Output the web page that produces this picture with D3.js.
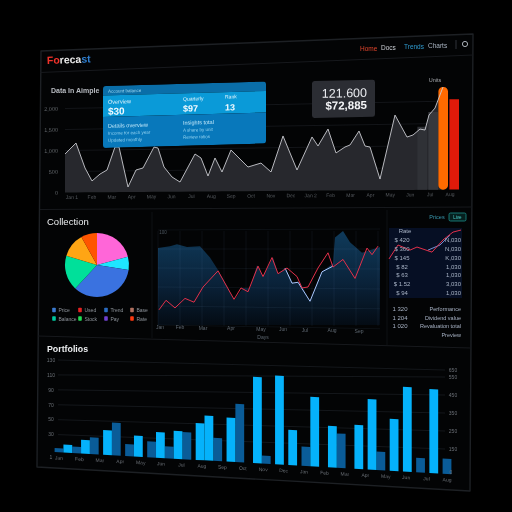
<!DOCTYPE html>
<html>
<head>
<meta charset="utf-8">
<script src="https://cdn.jsdelivr.net/npm/d3@7"></script>
<style>
  html, body { margin: 0; background: #000; }
  svg { display: block; filter: blur(0.45px); }
  text { font-family: "Liberation Sans", sans-serif; }
</style>
</head>
<body>
<svg width="512" height="512"></svg>
<script>
// top area chart
const areaDays = [0, 11, 20, 27, 35, 42, 50, 54, 63, 71, 78, 89, 93, 99, 107, 115, 130, 136, 143, 150, 157, 166, 173, 183, 196, 206, 218, 232, 247, 253, 263, 271, 280, 285, 294, 300, 305, 315, 330, 342, 348, 355, 360, 364, 370, 378];
const areaValues = [916, 1176, 580, 270, 433, 528, 1075, 1073, 120, 523, 570, 1066, 1042, 590, 350, 229, 893, 797, 367, 795, 460, 983, 814, 574, 666, 452, 1307, 495, 1278, 1062, 1464, 893, 1033, 1080, 1411, 1054, 1028, 264, 1785, 1259, 1307, 1447, 1423, 1780, 1944, 2444];
const areaTicks = [0, 500, 1000, 1500, 2000];
const areaLabels = ["Jan 1", "Feb", "Mar", "Apr", "May", "Jun", "Jul", "Aug", "Sep", "Oct", "Nov", "Dec", "Jan 2", "Feb", "Mar", "Apr", "May", "Jun", "Jul", "Aug"];
const topBarDays = [357, 368, 378, 389];
const topBarValues = [1500, 1850, 2444, 2150];
const topBarColors = ["#2f3136", "#36383d", "#ff6a00", "#e01a0a"];

// pie
const pieValues = [20.8, 6.7, 34.4, 17.8, 12.2, 8.1];
const pieColors = ["#ff66d8", "#1ee6ff", "#3a72e0", "#00e09a", "#ffa514", "#ff5500"];
const legendNames = ["Price", "Used", "Trend", "Base", "Balance", "Stock", "Pay", "Rate"];
const legendColors = ["#3a7ad0", "#e52222", "#2a6bc0", "#b07060", "#00c8a0", "#22dd55", "#7040d0", "#ff3a10"];

// middle chart
const midAreaDays = [0, 12, 19, 29, 42, 52, 60, 72, 76, 85, 92, 99, 105, 115, 120, 127, 135, 142, 152, 164, 175, 177, 185, 192, 204, 222];
const midAreaValues = [81, 83, 85, 82, 83, 71, 58, 35, 26, 39, 39, 63, 51, 71, 54, 60, 44, 45, 25, 56, 65, 92, 99, 87, 76, 82];
const redDays = [1, 8, 17, 27, 36, 45, 60, 76, 83, 90, 100, 105, 114, 120, 129, 139, 144, 150, 160, 170, 175, 185, 197, 209, 214, 220];
const redValues = [16, 26, 18, 28, 24, 40, 57, 27, 39, 35, 62, 51, 71, 54, 60, 51, 39, 40, 60, 76, 61, 69, 49, 81, 74, 83];
const lightDays = [127, 134, 140, 152, 164, 175];
const lightValues = [60, 44, 45, 25, 56, 62];
const midLabels = ["Jan", "Feb", "Mar", "Apr", "May", "Jun", "Jul", "Aug", "Sep"];
const midLabelDays = [2, 22, 45, 73, 103, 125, 147, 174, 201];

// small table panel
const miniRedDays = [0, 9, 21, 28, 43, 54, 64, 72];
const miniRedValues = [9, 50, 35, 44, 29, 65, 88, 94];
const miniBlueDays = [39, 51, 61];
const miniBlueValues = [35, 50, 79];
const tableLeft = ["$ 420", "$ 360", "$ 145", "$ 82", "$ 63", "$ 1.52", "$ 94"];
const tableRight = ["N,030", "N,030", "K,030", "1,030", "1,030", "3,030", "1,030"];
const footLeft = ["1 320", "1 204", "1 020"];
const footRight = ["Performance", "Dividend value", "Revaluation total", "Preview"];

// bottom bars
const brightWeeks = [2, 6, 11, 18, 23, 27, 32, 34, 39, 45, 50, 53, 58, 62, 68, 71, 76, 79, 85];
const brightValues = [10, 17, 31, 26, 32, 35, 46, 56, 55, 108, 111, 44, 87, 52, 55, 88, 65, 106, 105];
const darkWeeks = [0, 4, 8, 13, 16, 21, 25, 29, 36, 41, 47, 56, 64, 73, 82, 88];
const darkValues = [5, 8, 21, 41, 15, 20, 15, 34, 29, 73, 10, 24, 43, 23, 18, 19];
const barTicks = [30, 50, 70, 90, 110, 130];
const barLabels = ["Jan", "Feb", "Mar", "Apr", "May", "Jun", "Jul", "Aug", "Sep", "Oct", "Nov", "Dec", "Jan", "Feb", "Mar", "Apr", "May", "Jun", "Jul", "Aug"];

const svg = d3.select("svg");

// the dashboard leans: horizontals fan out from about y=250
const slopeAt = (y) => -0.045 + ((y - 50) * 0.095) / 420;
const tilt = (k, pivotX) => `matrix(1,${k},0,1,0,${-k * pivotX})`;

const line = d3.line().x((d) => d[0]).y((d) => d[1]);

const defs = svg.append("defs");
const midGrad = defs
  .append("linearGradient")
  .attr("id", "midFill")
  .attr("gradientUnits", "userSpaceOnUse")
  .attr("x1", 0)
  .attr("x2", 0)
  .attr("y1", 232)
  .attr("y2", 326);
midGrad.append("stop").attr("offset", 0).attr("stop-color", "#0f3a5a");
midGrad.append("stop").attr("offset", 0.55).attr("stop-color", "#0a2239");
midGrad.append("stop").attr("offset", 1).attr("stop-color", "#040b13");

// panel frame and separators
svg
  .append("path")
  .attr("d", "M41,51 L473,34 L470,491 L37,467 Z")
  .attr("fill", "#030405")
  .attr("stroke", "#1d2024")
  .attr("stroke-linejoin", "round")
  .attr("stroke-width", 1.4);

const frameLines = [
  [40, 72.5, 473, 55],
  [40, 209.5, 472, 207],
  [38, 336, 471, 348],
  [152, 212, 152, 338],
  [387, 210, 387, 345]
];
svg
  .append("g")
  .selectAll("line")
  .data(frameLines)
  .join("line")
  .attr("x1", (d) => d[0])
  .attr("y1", (d) => d[1])
  .attr("x2", (d) => d[2])
  .attr("y2", (d) => d[3])
  .attr("stroke", (d) => (d[0] === d[2] ? "#0f1114" : "#17191d"));

// header
const title = svg
  .append("text")
  .attr("transform", `translate(47,64) rotate(-2)`)
  .attr("font-size", 10.5)
  .attr("font-weight", "bold");
title.append("tspan").attr("fill", "#f0322a").text("Fo");
title.append("tspan").attr("fill", "#e8e8e8").text("reca");
title.append("tspan").attr("fill", "#2f7fd0").text("st");

const navItems = [
  ["Home", 360, 50.5, "#e0452c"],
  ["Docs", 381, 49.5, "#c9ccd2"],
  ["Trends", 404, 49, "#2f9bd0"],
  ["Charts", 428, 48, "#a9b4c2"]
];
svg
  .append("g")
  .selectAll("text")
  .data(navItems)
  .join("text")
  .attr("x", (d) => d[1])
  .attr("y", (d) => d[2])
  .attr("fill", (d) => d[3])
  .attr("font-size", 6.5)
  .text((d) => d[0]);
svg.append("line").attr("x1", 456).attr("x2", 456).attr("y1", 40).attr("y2", 49).attr("stroke", "#30333a");
svg.append("circle").attr("cx", 465).attr("cy", 44).attr("r", 2.6).attr("fill", "none").attr("stroke", "#aab0b8");

svg
  .append("text")
  .attr("x", 51)
  .attr("y", 93)
  .attr("fill", "#b8bcc2")
  .attr("font-size", 7)
  .attr("font-weight", "bold")
  .text("Data In Aimple");

// top area chart
const topX = d3.scaleLinear().domain([0, 378]).range([65, 443]);
const topY = d3.scaleLinear().domain([0, 2000]).range([192.5, 108.5]);

svg
  .append("g")
  .selectAll("line")
  .data(areaTicks.slice(1))
  .join("line")
  .attr("x1", 65)
  .attr("x2", 440)
  .attr("y1", (d) => topY(d))
  .attr("y2", (d) => topY(d))
  .attr("stroke", "#131519")
  .attr("transform", (d) => tilt(slopeAt(topY(d)) * 0.6, 65));

const topG = svg.append("g").attr("transform", tilt(-0.0075, 65));
const topArea = d3
  .area()
  .x((d) => topX(d[0]))
  .y0(topY(0))
  .y1((d) => topY(d[1]));
const areaPts = areaDays.map((d, i) => [d, areaValues[i]]);
topG.append("path").attr("d", topArea(areaPts)).attr("fill", "#27282d");

topG
  .selectAll("rect.topbar")
  .data(topBarDays)
  .join("rect")
  .attr("class", "topbar")
  .attr("x", (d) => topX(d) - 4.6)
  .attr("width", 9.6)
  .attr("y", (d, i) => topY(topBarValues[i]))
  .attr("height", (d, i) => topY(0) - topY(topBarValues[i]))
  .attr("rx", (d, i) => (i === 2 ? 4.5 : 0))
  .attr("fill", (d, i) => topBarColors[i]);

topG
  .append("path")
  .attr("d", line(areaPts.map((d) => [topX(d[0]), topY(d[1])])))
  .attr("fill", "none")
  .attr("stroke", "#c9cbd0")
  .attr("stroke-width", 0.9);

const topAxisLeft = topG
  .append("g")
  .attr("transform", "translate(61,0)")
  .call(d3.axisLeft(topY).tickValues(areaTicks).tickSize(0).tickFormat(d3.format(",")));
topAxisLeft.select(".domain").remove();
topAxisLeft.selectAll("text").attr("fill", "#62666b").attr("font-size", 5.5);

topG
  .append("g")
  .selectAll("text")
  .data(areaLabels)
  .join("text")
  .attr("x", (d, i) => topX(7 + (i * 378) / 19))
  .attr("y", 199)
  .attr("text-anchor", "middle")
  .attr("fill", "#565a5f")
  .attr("font-size", 5)
  .text((d) => d);

svg
  .append("text")
  .attr("x", 435)
  .attr("y", 82)
  .attr("text-anchor", "middle")
  .attr("fill", "#a5a8ad")
  .attr("font-size", 5.5)
  .text("Units");

// blue card
const cardG = svg.append("g").attr("transform", tilt(-0.028, 103));
defs
  .append("clipPath")
  .attr("id", "cardClip")
  .append("rect")
  .attr("x", 103)
  .attr("y", 86)
  .attr("width", 163)
  .attr("height", 62)
  .attr("rx", 3);
const cardBands = [
  [86, 9.5, "#0a6ea8"],
  [95.5, 21.5, "#0a9ad8"],
  [117, 31, "#0878bb"]
];
cardG
  .append("g")
  .attr("clip-path", "url(#cardClip)")
  .selectAll("rect")
  .data(cardBands)
  .join("rect")
  .attr("x", 103)
  .attr("width", 163)
  .attr("y", (d) => d[0])
  .attr("height", (d) => d[1])
  .attr("fill", (d) => d[2]);

const cardTexts = [
  ["Account balance", 108, 93, 4.5, "#9fd8f2", "normal"],
  ["Overview", 108, 104, 5.5, "#e4f5fd", "normal"],
  ["$30", 108, 115, 10, "#f4fbff", "bold"],
  ["Quarterly", 183, 103, 5, "#e4f5fd", "normal"],
  ["$97", 183, 114, 9, "#f4fbff", "bold"],
  ["Rank", 225, 102, 5, "#e4f5fd", "normal"],
  ["13", 225, 114, 9, "#f4fbff", "bold"],
  ["Details overview", 108, 128, 5.5, "#bfe6f8", "normal"],
  ["Income for each year", 108, 135, 4.5, "#8fd0ef", "normal"],
  ["Updated monthly", 108, 142, 4.5, "#8fd0ef", "normal"],
  ["Insights total", 183, 127, 5.5, "#bfe6f8", "normal"],
  ["A share by unit", 183, 134, 4.5, "#8fd0ef", "normal"],
  ["Review ratios", 183, 141, 4.5, "#8fd0ef", "normal"]
];
cardG
  .selectAll("text")
  .data(cardTexts)
  .join("text")
  .attr("x", (d) => d[1])
  .attr("y", (d) => d[2])
  .attr("font-size", (d) => d[3])
  .attr("fill", (d) => d[4])
  .attr("font-weight", (d) => d[5])
  .text((d) => d[0]);

// dark tooltip
const tipG = svg.append("g").attr("transform", tilt(-0.02, 312));
tipG
  .append("rect")
  .attr("x", 312)
  .attr("y", 81)
  .attr("width", 63)
  .attr("height", 37)
  .attr("rx", 2.5)
  .attr("fill", "#2b2d33");
tipG
  .append("text")
  .attr("x", 367)
  .attr("y", 98)
  .attr("text-anchor", "end")
  .attr("fill", "#e8eaee")
  .attr("font-size", 12.5)
  .text("121.600");
tipG
  .append("text")
  .attr("x", 367)
  .attr("y", 110)
  .attr("text-anchor", "end")
  .attr("fill", "#f4f5f7")
  .attr("font-size", 11.5)
  .attr("font-weight", "bold")
  .text("$72,885");

// pie and legend
svg
  .append("text")
  .attr("x", 47)
  .attr("y", 225)
  .attr("fill", "#eceef0")
  .attr("font-size", 9.5)
  .text("Collection");

const pieArc = d3.arc().innerRadius(0).outerRadius(32);
const pieG = svg.append("g").attr("transform", "translate(97,265)");
pieG
  .selectAll("path")
  .data(d3.pie().sort(null)(pieValues))
  .join("path")
  .attr("d", pieArc)
  .attr("fill", (d, i) => pieColors[i]);

const legendX = d3.scalePoint().domain([0, 1, 2, 3]).range([54, 132]);
const legendG = svg
  .append("g")
  .selectAll("g")
  .data(legendNames)
  .join("g")
  .attr("transform", (d, i) => `translate(${legendX(i % 4)},${i < 4 ? 310 : 318.5})`);
legendG
  .append("rect")
  .attr("x", -1.8)
  .attr("y", -2.3)
  .attr("width", 3.6)
  .attr("height", 4.6)
  .attr("rx", 0.8)
  .attr("fill", (d, i) => legendColors[i]);
legendG
  .append("text")
  .attr("x", 4.5)
  .attr("y", 2)
  .attr("fill", "#8f959c")
  .attr("font-size", 5)
  .text((d) => d);

// middle chart
const midX = d3.scaleLinear().domain([0, 222]).range([158, 380]);
const midY = d3.scaleLinear().domain([0, 100]).range([325, 230]);
const midG = svg.append("g");

const midArea = d3
  .area()
  .x((d) => midX(d[0]))
  .y0(midY(0))
  .y1((d) => midY(d[1]));
midG
  .append("path")
  .attr("d", midArea(midAreaDays.map((d, i) => [d, midAreaValues[i]])))
  .attr("fill", "url(#midFill)");

midG
  .append("g")
  .selectAll("line")
  .data(d3.range(0, 223, 22))
  .join("line")
  .attr("x1", (d) => midX(d))
  .attr("x2", (d) => midX(d))
  .attr("y1", midY(99))
  .attr("y2", midY(-1))
  .attr("stroke", "#8fb8e0")
  .attr("stroke-opacity", 0.07);
midG
  .append("g")
  .selectAll("line")
  .data(d3.range(0, 101, 20))
  .join("line")
  .attr("x1", midX(0))
  .attr("x2", midX(222))
  .attr("y1", (d) => midY(d))
  .attr("y2", (d) => midY(d))
  .attr("stroke", "#8fb8e0")
  .attr("stroke-opacity", 0.07)
  .attr("transform", (d) => tilt(slopeAt(midY(d)), 158));

midG
  .append("path")
  .attr("d", line(lightDays.map((d, i) => [midX(d), midY(lightValues[i])])))
  .attr("fill", "none")
  .attr("stroke", "#a9c8ff")
  .attr("stroke-width", 1);
midG
  .append("path")
  .attr("d", line(redDays.map((d, i) => [midX(d), midY(redValues[i])])))
  .attr("fill", "none")
  .attr("stroke", "#e2304a")
  .attr("stroke-width", 1);

midG
  .append("g")
  .selectAll("text")
  .data(midLabels)
  .join("text")
  .attr("x", (d, i) => midX(midLabelDays[i]))
  .attr("y", (d, i) => 328.5 + i * 0.5)
  .attr("text-anchor", "middle")
  .attr("fill", "#5f6872")
  .attr("font-size", 5)
  .text((d) => d);
midG
  .append("text")
  .attr("x", midX(105))
  .attr("y", 339)
  .attr("text-anchor", "middle")
  .attr("fill", "#5f6872")
  .attr("font-size", 5)
  .text("Days");
midG
  .append("text")
  .attr("x", midX(5))
  .attr("y", 234)
  .attr("text-anchor", "middle")
  .attr("fill", "#4c555e")
  .attr("font-size", 4.5)
  .text("100");

// right table panel
svg
  .append("rect")
  .attr("x", 389)
  .attr("y", 228)
  .attr("width", 73)
  .attr("height", 70)
  .attr("fill", "#060f24");
svg
  .append("text")
  .attr("x", 437)
  .attr("y", 219)
  .attr("text-anchor", "middle")
  .attr("fill", "#3a9ab0")
  .attr("font-size", 5.5)
  .text("Prices");
svg
  .append("rect")
  .attr("x", 449)
  .attr("y", 213)
  .attr("width", 17)
  .attr("height", 8)
  .attr("rx", 1.5)
  .attr("fill", "#06201f")
  .attr("stroke", "#1c8f8c")
  .attr("stroke-width", 0.8);
svg
  .append("text")
  .attr("x", 457.5)
  .attr("y", 219)
  .attr("text-anchor", "middle")
  .attr("fill", "#4fd4d0")
  .attr("font-size", 4.5)
  .text("Live");

const miniX = d3.scaleLinear().domain([0, 72]).range([389, 461]);
const miniY = d3.scaleLinear().domain([0, 100]).range([262, 228]);
svg
  .append("path")
  .attr("d", line(miniBlueDays.map((d, i) => [miniX(d), miniY(miniBlueValues[i])])))
  .attr("fill", "none")
  .attr("stroke", "#7f9fe8")
  .attr("stroke-width", 0.9);
svg
  .append("path")
  .attr("d", line(miniRedDays.map((d, i) => [miniX(d), miniY(miniRedValues[i])])))
  .attr("fill", "none")
  .attr("stroke", "#e2304a")
  .attr("stroke-width", 1);

const rowY = d3.scalePoint().domain(d3.range(7)).range([240, 293]);
const footY = d3.scalePoint().domain(d3.range(4)).range([311, 337]);
const tableG = svg.append("g").attr("font-size", 6).attr("fill", "#a8b3c5");
tableG.append("text").attr("x", 405).attr("y", 233).attr("text-anchor", "middle").text("Rate");
tableG
  .append("g")
  .selectAll("text")
  .data(tableLeft)
  .join("text")
  .attr("x", 402)
  .attr("y", (d, i) => rowY(i) + 2)
  .attr("text-anchor", "middle")
  .text((d) => d);
tableG
  .append("g")
  .selectAll("text")
  .data(tableRight)
  .join("text")
  .attr("x", 461)
  .attr("y", (d, i) => rowY(i) + 2)
  .attr("text-anchor", "end")
  .text((d) => d);
tableG
  .append("g")
  .selectAll("text")
  .data(footLeft)
  .join("text")
  .attr("x", 400)
  .attr("y", (d, i) => footY(i))
  .attr("text-anchor", "middle")
  .text((d) => d);
tableG
  .append("g")
  .selectAll("text")
  .data(footRight)
  .join("text")
  .attr("x", 461)
  .attr("y", (d, i) => footY(i))
  .attr("text-anchor", "end")
  .attr("font-size", 5.5)
  .text((d) => d);

// bottom bars
svg
  .append("text")
  .attr("x", 47)
  .attr("y", 352)
  .attr("fill", "#eceef0")
  .attr("font-size", 8.8)
  .attr("font-weight", "bold")
  .text("Portfolios");

const leftY = d3.scaleLinear().domain([0, 130]).range([457, 360]);
const rightY = d3.scaleLinear().domain([0, 30, 110, 130]).range([472, 449, 377, 370]);

svg
  .append("g")
  .selectAll("line")
  .data(barTicks)
  .join("line")
  .attr("x1", 58)
  .attr("x2", 445)
  .attr("y1", (d) => leftY(d))
  .attr("y2", (d) => rightY(d))
  .attr("stroke", "#14171b");

const barX = d3.scaleLinear().domain([0, 88]).range([59, 447]);
const barH = d3.scaleLinear().domain([0, 100]).range([0, 80]);
const barG = svg.append("g").attr("transform", tilt(0.056, 55));
const baseY = 452;

const drawBars = (weeks, values, color) => {
  barG
    .append("g")
    .selectAll("rect")
    .data(weeks)
    .join("rect")
    .attr("x", (d) => barX(d) - 4.4)
    .attr("width", 8.8)
    .attr("y", (d, i) => baseY - barH(values[i]))
    .attr("height", (d, i) => barH(values[i]))
    .attr("fill", color);
};
drawBars(darkWeeks, darkValues, "#0a5c98");
drawBars(brightWeeks, brightValues, "#05b2fb");

const tickLabelG = svg.append("g").attr("fill", "#6b7077").attr("font-size", 5);
tickLabelG
  .selectAll("text.l")
  .data(barTicks)
  .join("text")
  .attr("class", "l")
  .attr("x", 51)
  .attr("y", (d) => leftY(d) + 1.8)
  .attr("text-anchor", "middle")
  .text((d) => d);
tickLabelG
  .selectAll("text.r")
  .data(barTicks)
  .join("text")
  .attr("class", "r")
  .attr("x", 453)
  .attr("y", (d) => rightY(d) + 1.8)
  .attr("text-anchor", "middle")
  .text((d) => d * 5);
tickLabelG.append("text").attr("x", 451).attr("y", 474).attr("text-anchor", "middle").text("0");
tickLabelG.append("text").attr("x", 51).attr("y", 459).attr("text-anchor", "middle").text("1");

barG
  .append("g")
  .selectAll("text")
  .data(barLabels)
  .join("text")
  .attr("x", (d, i) => barX((i * 88) / 19))
  .attr("y", 459.5)
  .attr("text-anchor", "middle")
  .attr("fill", "#6b7077")
  .attr("font-size", 5)
  .text((d) => d);
</script>
</body>
</html>
